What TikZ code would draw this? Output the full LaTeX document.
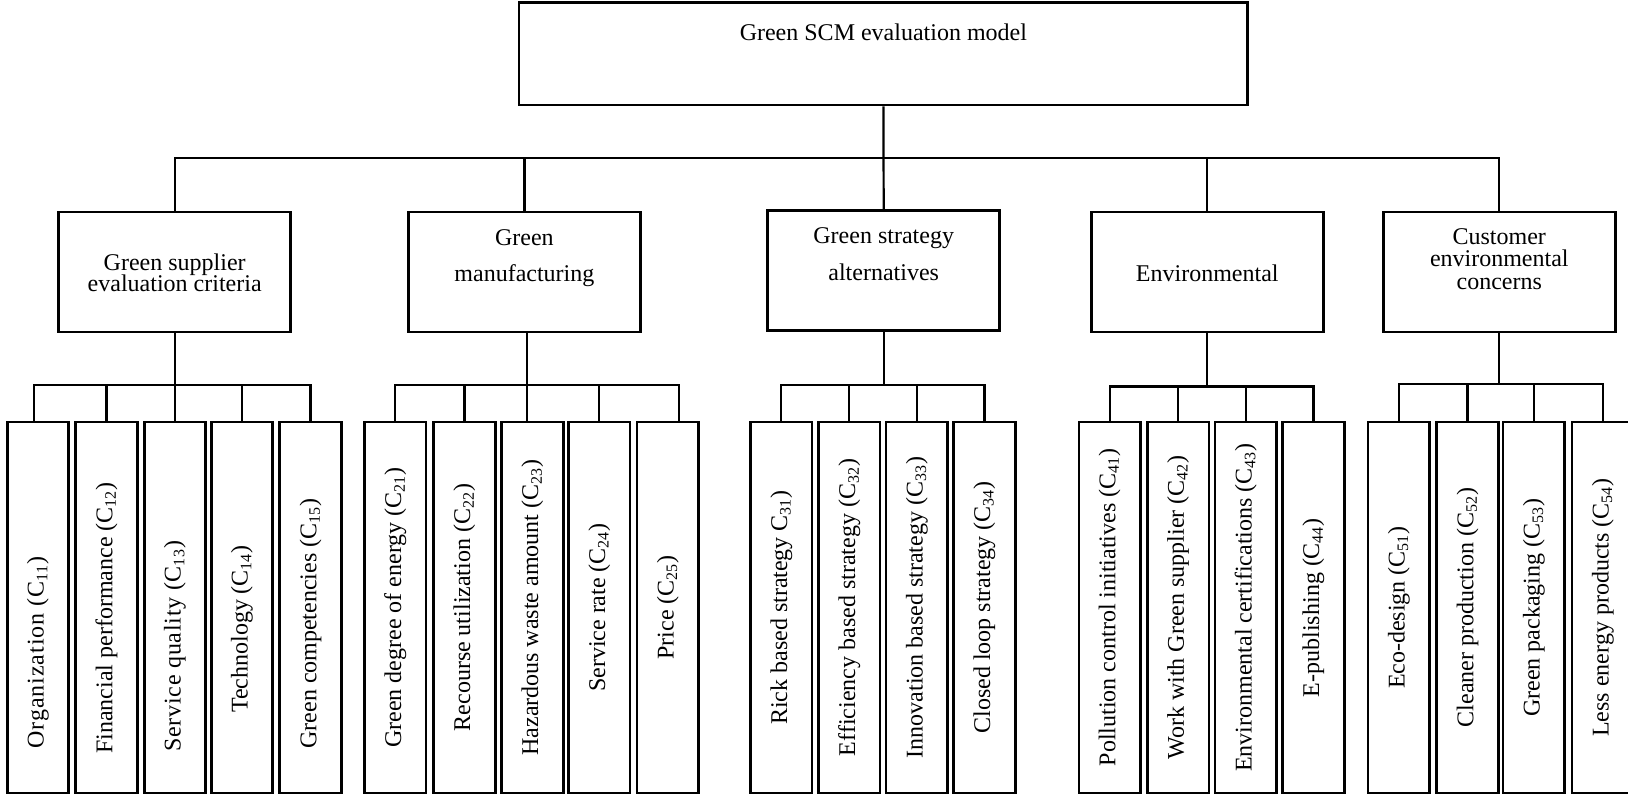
\documentclass[tikz,border=0pt]{standalone}
\usepackage{fontspec}
\usepackage{graphicx}
\setmainfont{Liberation Serif}
\begin{document}
\begin{tikzpicture}[x=0.5pt,y=-0.5pt,
  box/.style={draw, line width=1.35pt, inner sep=0pt},
  catbox/.style={box, minimum width=116pt, minimum height=60pt},
  leaf/.style={box, minimum width=30.75pt, minimum height=185.5pt,
    font=\fontsize{12}{13}\selectfont},
  ltxt/.style={inner sep=0pt, font=\fontsize{12}{13}\selectfont},
  conn/.style={line width=1.1pt},
  txt/.style={inner sep=0pt, anchor=base, font=\fontsize{12}{13}\selectfont}]
\useasboundingbox (0,0) rectangle (1628,798);
\clip (0,0) rectangle (1628,798);
\fill[white] (0,0) rectangle (1628,798);

% top
\node[box, minimum width=364.35pt, minimum height=51.15pt] (top) at (883.4,53.9) {};
\node[txt] (title) at (883.4,40) {Green SCM evaluation model};

% categories
\node[catbox] (c1) at (174.7,272) {};
\node[catbox] (c2) at (524.4,272) {};
\node[catbox] (c3) at (883.7,270.4) {};
\node[catbox] (c4) at (1207.3,272) {};
\node[catbox] (c5) at (1499.3,272) {};

\node[txt] (c1a) at (174.7,270) {Green supplier};
\node[txt] (c1b) at (174.7,291.7) {evaluation criteria};
\node[txt] (c2a) at (524.4,245) {Green};
\node[txt] (c2b) at (524.4,281.7) {manufacturing};
\node[txt] (c3a) at (883.7,243) {Green strategy};
\node[txt] (c3b) at (883.7,280) {alternatives};
\node[txt] (c4a) at (1207.3,281.7) {Environmental};
\node[txt] (c5a) at (1499.3,244) {Customer};
\node[txt] (c5b) at (1499.3,266.5) {environmental};
\node[txt] (c5c) at (1499.3,289.5) {concerns};

% leaves group 1 (boxes, texts placed separately)
\node[leaf] (l11) at (38,607.5) {};
\node[leaf] (l12) at (106.5,607.5) {};
\node[leaf] (l13) at (175,607.5) {};
\node[leaf] (l14) at (242,607.5) {};
\node[leaf] (l15) at (310.5,607.5) {};
\node[ltxt] (t11) at ([yshift=-22.5pt]l11.center) {\addfontfeature{LetterSpace=4}\rotatebox{90}{Organization (C\textsubscript{11})}};
\node[ltxt] (t12) at ([yshift=-5.25pt]l12.center) {\rotatebox{90}{Financial performance (C\textsubscript{12})}};
\node[ltxt] (t13) at ([yshift=-19.25pt]l13.center) {\addfontfeature{LetterSpace=3}\rotatebox{90}{Service quality (C\textsubscript{13})}};
\node[ltxt] (t14) at ([yshift=-10.75pt]l14.center) {\rotatebox{90}{Technology (C\textsubscript{14})}};
\node[ltxt] (t15) at ([yshift=-8pt]l15.center) {\rotatebox{90}{Green competencies (C\textsubscript{15})}};
% group 2
\node[leaf] (l21) at (395.3,607.5) {\rotatebox{90}{Green degree of energy (C\textsubscript{21})}};
\node[leaf] (l22) at (464.4,607.5) {\rotatebox{90}{Recourse utilization (C\textsubscript{22})}};
\node[leaf] (l23) at (532.4,607.5) {\rotatebox{90}{Hazardous waste amount (C\textsubscript{23})}};
\node[leaf] (l24) at (599.3,607.5) {\rotatebox{90}{Service rate (C\textsubscript{24})}};
\node[leaf] (l25) at (667.8,607.5) {\rotatebox{90}{Price (C\textsubscript{25})}};
% group 3
\node[leaf] (l31) at (781.3,607.5) {\rotatebox{90}{Rick based strategy C\textsubscript{31})}};
\node[leaf] (l32) at (849.3,607.5) {\rotatebox{90}{Efficiency based strategy (C\textsubscript{32})}};
\node[leaf] (l33) at (916.8,607.5) {\rotatebox{90}{Innovation based strategy (C\textsubscript{33})}};
\node[leaf] (l34) at (984.4,607.5) {\rotatebox{90}{Closed loop strategy (C\textsubscript{34})}};
% group 4
\node[leaf] (l41) at (1109.6,607.5) {\rotatebox{90}{Pollution control initiatives (C\textsubscript{41})}};
\node[leaf] (l42) at (1178.2,607.5) {\rotatebox{90}{Work with Green supplier (C\textsubscript{42})}};
\node[leaf] (l43) at (1245.8,607.5) {\rotatebox{90}{Environmental certifications (C\textsubscript{43})}};
\node[leaf] (l44) at (1313.4,607.5) {\rotatebox{90}{E-publishing (C\textsubscript{44})}};
% group 5
\node[leaf] (l51) at (1398.8,607.5) {\rotatebox{90}{Eco-design (C\textsubscript{51})}};
\node[leaf] (l52) at (1467.5,607.5) {\rotatebox{90}{Cleaner production (C\textsubscript{52})}};
\node[leaf] (l53) at (1533.8,607.5) {\rotatebox{90}{Green packaging (C\textsubscript{53})}};
\node[leaf] (l54) at (1602.8,607.5) {\rotatebox{90}{Less energy products (C\textsubscript{54})}};

% top level connectors
\draw[conn] (top.south) -- (c3.north);
\draw[conn] (c1.north) -- (c1.north |- 0,158) -| (c5.north);
\draw[conn] (c2.north) -- (c2.north |- 0,158);
\draw[conn] (c4.north) -- (c4.north |- 0,158);

% group 1 connectors
\coordinate (e11) at ([xshift=-2pt]l11.north);
\draw[conn] (c1.south) -- (c1.south |- 0,385);
\draw[conn] (e11) -- (e11 |- 0,385) -| (l15.north);
\draw[conn] (l12.north) -- (l12.north |- 0,385);
\draw[conn] (l13.north) -- (l13.north |- 0,385);
\draw[conn] (l14.north) -- (l14.north |- 0,385);

% group 2 connectors
\coordinate (d2) at ([xshift=1.3pt]c2.south);
\coordinate (e23) at ([xshift=-2.7pt]l23.north);
\coordinate (e25) at ([xshift=5.6pt]l25.north);
\draw[conn] (d2) -- (d2 |- 0,385);
\draw[conn] (l21.north) -- (l21.north |- 0,385) -| (e25);
\draw[conn] (l22.north) -- (l22.north |- 0,385);
\draw[conn] (e23) -- (e23 |- 0,385);
\draw[conn] (l24.north) -- (l24.north |- 0,385);

% group 3 connectors
\draw[conn] (c3.south) -- (c3.south |- 0,385);
\draw[conn] (l31.north) -- (l31.north |- 0,385) -| (l34.north);
\draw[conn] (l32.north) -- (l32.north |- 0,385);
\draw[conn] (l33.north) -- (l33.north |- 0,385);

% group 4 connectors
\draw[conn] (c4.south) -- (c4.south |- 0,386.5);
\draw[conn] (l41.north) -- (l41.north |- 0,386.5) -| (l44.north);
\draw[conn] (l42.north) -- (l42.north |- 0,386.5);
\draw[conn] (l43.north) -- (l43.north |- 0,386.5);

% group 5 connectors
\draw[conn] (c5.south) -- (c5.south |- 0,384);
\draw[conn] (l51.north) -- (l51.north |- 0,384) -| (l54.north);
\draw[conn] (l52.north) -- (l52.north |- 0,384);
\draw[conn] (l53.north) -- (l53.north |- 0,384);
\end{tikzpicture}
\end{document}
